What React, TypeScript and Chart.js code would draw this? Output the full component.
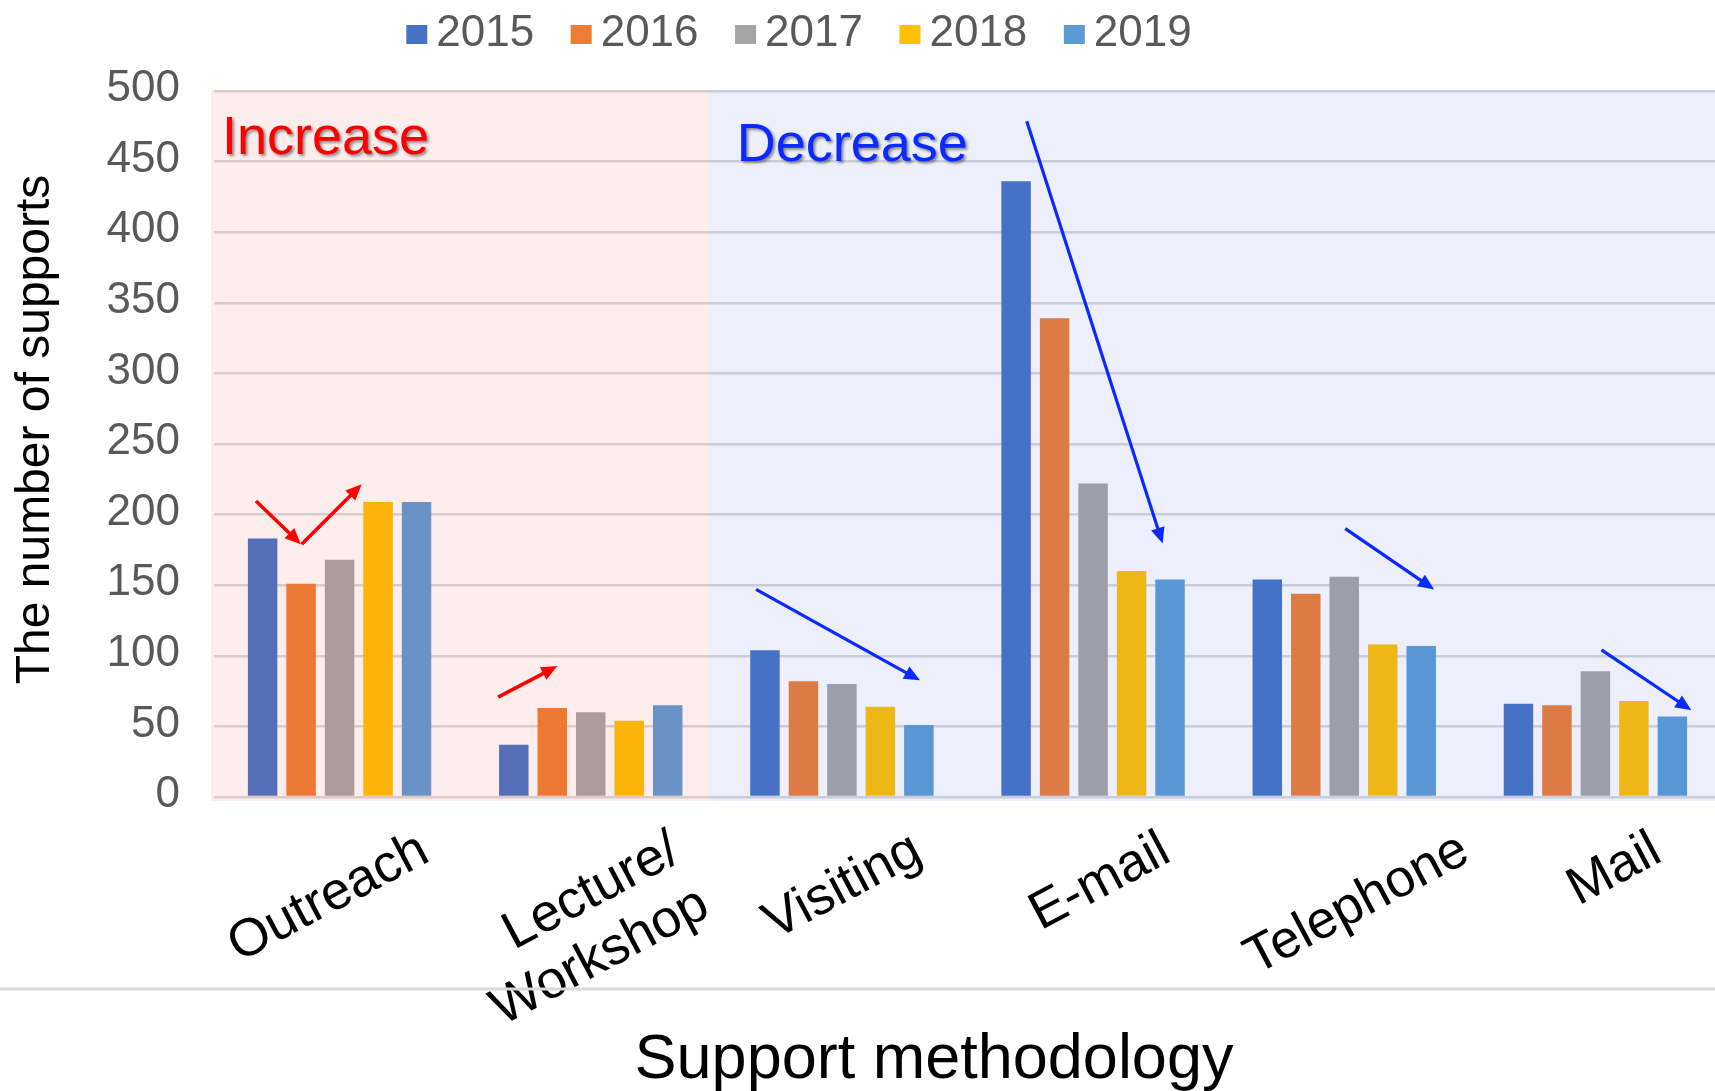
import React, { useEffect, useRef } from 'react';
import { Chart, registerables } from 'chart.js';

Chart.register(...registerables);

const FONT = '"Liberation Sans", Arial, Helvetica, sans-serif';

// ---- data ----
const categories: (string | string[])[] = ['Outreach', ['Lecture/', 'Workshop'], 'Visiting', 'E-mail', 'Telephone', 'Mail'];
const years = ['2015', '2016', '2017', '2018', '2019'];
const values2015 = [183, 37, 104, 436, 154, 66];
const values2016 = [151, 63, 82, 339, 144, 65];
const values2017 = [168, 60, 80, 222, 156, 89];
const values2018 = [209, 54, 64, 160, 108, 68];
const values2019 = [209, 65, 51, 154, 107, 57];
const seriesValues = [values2015, values2016, values2017, values2018, values2019];
const seriesColors = ['#4472C4', '#ED7D31', '#A5A5A5', '#FFC000', '#5B9BD5'];

const yTicks = { min: 0, max: 500, step: 50 };
const xAxisTitle = 'Support methodology';
const yAxisTitle = 'The number of supports';

// split between the "Increase" and "Decrease" zones, in category-index units
const REGION_SPLIT = 1.47;
const increaseLabel = { text: 'Increase', at: [-0.468, 455.7] };
const decreaseLabel = { text: 'Decrease', at: [1.581, 450.1] };
// trend arrows: [categoryIndex, value] -> [categoryIndex, value]
const increaseArrows = [
  { from: [-0.333, 209.7], to: [-0.154, 179.0] },
  { from: [-0.151, 179.0], to: [0.088, 221.5] },
  { from: [0.631, 70.7], to: [0.867, 92.7] },
];
const decreaseArrows = [
  { from: [1.658, 147.1], to: [2.311, 82.6] },
  { from: [2.736, 478.5], to: [3.277, 179.5] },
  { from: [4.004, 190.1], to: [4.358, 146.9] },
  { from: [5.024, 104.2], to: [5.382, 61.4] },
];

const RED = '#FF0000';
const BLUE = '#0A2AFF';

function drawArrow(ctx: CanvasRenderingContext2D, x0: number, y0: number, x1: number, y1: number, color: string, lw: number) {
  const ang = Math.atan2(y1 - y0, x1 - x0);
  const headLen = 16;
  const headHalf = 7;
  const bx = x1 - headLen * Math.cos(ang);
  const by = y1 - headLen * Math.sin(ang);
  ctx.save();
  ctx.strokeStyle = color;
  ctx.fillStyle = color;
  ctx.lineWidth = lw;
  ctx.lineCap = 'butt';
  ctx.beginPath();
  ctx.moveTo(x0, y0);
  ctx.lineTo(bx + 2 * Math.cos(ang), by + 2 * Math.sin(ang));
  ctx.stroke();
  ctx.beginPath();
  ctx.moveTo(x1, y1);
  ctx.lineTo(bx + headHalf * Math.sin(ang), by - headHalf * Math.cos(ang));
  ctx.lineTo(bx - headHalf * Math.sin(ang), by + headHalf * Math.cos(ang));
  ctx.closePath();
  ctx.fill();
  ctx.restore();
}

const decorPlugin = {
  id: 'decor',
  afterDatasetsDraw(chart: any) {
    const { ctx, chartArea } = chart;
    const xs = chart.scales.x;
    const ys = chart.scales.y;
    const top = ys.getPixelForValue(yTicks.max) - 1;
    const bottom = ys.getPixelForValue(yTicks.min) + 4;
    const split = xs.getPixelForValue(REGION_SPLIT);
    ctx.save();
    ctx.fillStyle = 'rgba(235, 75, 75, 0.1)';
    ctx.fillRect(chartArea.left - 3, top, split - (chartArea.left - 3), bottom - top);
    ctx.fillStyle = 'rgba(75, 105, 225, 0.1)';
    ctx.fillRect(split, top, chartArea.right - split, bottom - top);
    ctx.restore();

    // arrows
    increaseArrows.forEach((a) => {
      drawArrow(ctx, xs.getPixelForValue(a.from[0]), ys.getPixelForValue(a.from[1]), xs.getPixelForValue(a.to[0]), ys.getPixelForValue(a.to[1]), RED, 3.5);
    });
    decreaseArrows.forEach((a) => {
      drawArrow(ctx, xs.getPixelForValue(a.from[0]), ys.getPixelForValue(a.from[1]), xs.getPixelForValue(a.to[0]), ys.getPixelForValue(a.to[1]), BLUE, 3.2);
    });

    // zone labels
    ctx.save();
    ctx.font = `54px ${FONT}`;
    ctx.textAlign = 'left';
    ctx.textBaseline = 'alphabetic';
    ctx.shadowColor = 'rgba(0,0,0,0.45)';
    ctx.shadowOffsetX = 2;
    ctx.shadowOffsetY = 2;
    ctx.shadowBlur = 3;
    ctx.fillStyle = RED;
    ctx.fillText(increaseLabel.text, xs.getPixelForValue(increaseLabel.at[0]), ys.getPixelForValue(increaseLabel.at[1]));
    ctx.fillStyle = BLUE;
    ctx.fillText(decreaseLabel.text, xs.getPixelForValue(decreaseLabel.at[0]), ys.getPixelForValue(decreaseLabel.at[1]));
    ctx.restore();
  },
  afterDraw(chart: any) {
    const { ctx } = chart;
    const xs = chart.scales.x;

    // legend
    ctx.save();
    ctx.font = `44px ${FONT}`;
    ctx.textAlign = 'left';
    ctx.textBaseline = 'alphabetic';
    const boxW = 21, boxH = 19, gap = 9, itemGap = 36.5;
    const ds = chart.data.datasets;
    const widths = ds.map((d: any) => ctx.measureText(d.label).width);
    const total = widths.reduce((s: number, w: number) => s + boxW + gap + w, 0) + itemGap * (ds.length - 1);
    let lx = 799 - total / 2;
    ds.forEach((d: any, i: number) => {
      ctx.fillStyle = d.backgroundColor;
      ctx.fillRect(lx, 25, boxW, boxH);
      ctx.fillStyle = '#595959';
      ctx.fillText(d.label, lx + boxW + gap, 46);
      lx += boxW + gap + widths[i] + itemGap;
    });
    ctx.restore();

    // category labels (rotated, box centred under each category, lines right-aligned)
    ctx.save();
    const fs = 53;
    const angle = (28 * Math.PI) / 180;
    ctx.font = `${fs}px ${FONT}`;
    ctx.fillStyle = '#000000';
    ctx.textAlign = 'right';
    ctx.textBaseline = 'middle';
    const lh = fs * 1.16;
    const labels = chart.data.labels as (string | string[])[];
    const n = labels.length;
    labels.forEach((cat, i) => {
      const lines = Array.isArray(cat) ? cat : [cat];
      const L = Math.max(...lines.map((l) => ctx.measureText(l).width));
      const H = lines.length * lh;
      const h = L * Math.sin(angle) + H * Math.cos(angle);
      const cx = xs.getPixelForValue(i) + 4 + 6 * (i - (n - 1) / 2);
      const cy = 820 + h / 2;
      ctx.save();
      ctx.translate(cx, cy);
      ctx.rotate(-angle);
      lines.forEach((l, k) => ctx.fillText(l, L / 2, (k - (lines.length - 1) / 2) * lh));
      ctx.restore();
    });
    ctx.restore();

    // separator line
    ctx.save();
    ctx.strokeStyle = '#D9D9D9';
    ctx.lineWidth = 3;
    ctx.beginPath();
    ctx.moveTo(0, 989);
    ctx.lineTo(chart.width, 989);
    ctx.stroke();
    ctx.restore();

    // axis titles
    ctx.save();
    ctx.fillStyle = '#000000';
    ctx.font = `63px ${FONT}`;
    ctx.textAlign = 'center';
    ctx.textBaseline = 'alphabetic';
    ctx.fillText(xAxisTitle, 934, 1078);
    ctx.font = `48px ${FONT}`;
    ctx.translate(49, 429.5);
    ctx.rotate(-Math.PI / 2);
    ctx.fillText(yAxisTitle, 0, 0);
    ctx.restore();
  },
};

export default function App() {
  const canvasRef = useRef<HTMLCanvasElement | null>(null);

  useEffect(() => {
    const canvas = canvasRef.current;
    if (!canvas) return;
    const chart = new Chart(canvas, {
      type: 'bar',
      data: {
        labels: categories as any,
        datasets: years.map((y, i) => ({
          label: y,
          data: seriesValues[i],
          backgroundColor: seriesColors[i],
          borderWidth: 0,
          barPercentage: 0.766,
          categoryPercentage: 0.766,
        })),
      },
      options: {
        responsive: false,
        animation: false,
        devicePixelRatio: 1,
        layout: { padding: { top: 91, left: 0, right: 0, bottom: 0 } },
        plugins: {
          legend: { display: false },
          title: { display: false },
          tooltip: { enabled: false },
        },
        scales: {
          x: {
            grid: { display: false },
            border: { display: false },
            ticks: { display: false },
            afterFit: (s: any) => {
              s.height = 294;
            },
          },
          y: {
            min: yTicks.min,
            max: yTicks.max,
            ticks: {
              stepSize: yTicks.step,
              padding: 34,
              color: '#595959',
              font: { family: FONT, size: 44 },
              labelOffset: -2,
            },
            grid: { color: '#D9D9D9', lineWidth: 2.5, drawTicks: false },
            border: { display: false },
            afterFit: (s: any) => {
              s.width = 214;
            },
          },
        },
      },
      plugins: [decorPlugin],
    });
    return () => chart.destroy();
  }, []);

  return (
    <div style={{ position: 'absolute', left: 0, top: 0, width: 1715, height: 1091, overflow: 'hidden', background: '#ffffff' }}>
      <canvas ref={canvasRef} width={1721} height={1091} style={{ display: 'block', width: 1721, height: 1091 }} />
    </div>
  );
}
